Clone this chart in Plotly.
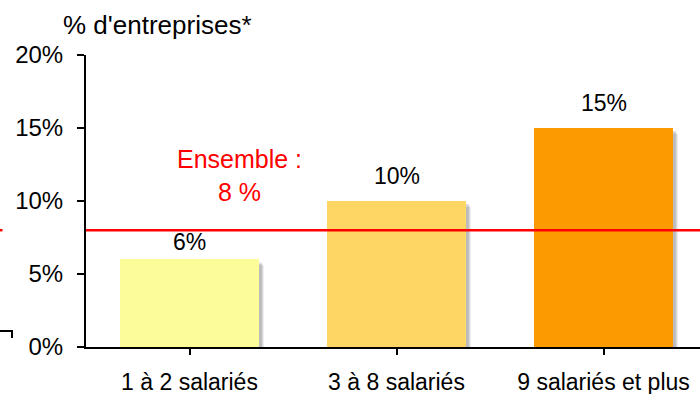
import plotly.graph_objects as go

# Share of companies by size class
categories = ["1 à 2 salariés", "3 à 8 salariés", "9 salariés et plus"]
values = [6, 10, 15]
value_labels = ["6%", "10%", "15%"]
bar_colors = ["#FCFC99", "#FDD663", "#FC9A02"]

ensemble = 8
ensemble_label = "Ensemble :<br>8 %"

y_ticks = [0, 5, 10, 15, 20]
y_tick_labels = ["0%", "5%", "10%", "15%", "20%"]

FONT = "Liberation Sans, Arial, sans-serif"
W, H = 700, 394
ML, MR, MT, MB = 86, 0, 55, 47
PW = W - ML - MR
PH = H - MT - MB


def px_x(p):
    return (p - ML) / PW


def px_y(p):
    return 1 - (p - MT) / PH


BAR_W = 0.67

fig = go.Figure()

fig.add_trace(go.Bar(
    x=list(range(len(categories))),
    y=values,
    width=BAR_W,
    marker=dict(color=bar_colors, line=dict(width=0)),
    hoverinfo="skip",
))

# soft drop shadow behind each bar
shapes = []
for i, v in enumerate(values):
    for k, op in enumerate([0.10, 0.12, 0.16]):
        dx = (5 - k) / 207.0
        shapes.append(dict(
            type="rect", xref="x", yref="y", layer="below",
            x0=i - BAR_W / 2 + dx, x1=i + BAR_W / 2 + dx,
            y0=-0.25, y1=v - (6 - k * 1.5) / 14.6,
            fillcolor="rgba(60,60,60,%.2f)" % op, line=dict(width=0),
        ))

# overall reference line
shapes.append(dict(type="line", xref="paper", yref="y", x0=0, x1=1,
                   y0=ensemble, y1=ensemble,
                   line=dict(color="#FF0000", width=2.5)))
shapes.append(dict(type="line", xref="paper", yref="y", x0=px_x(0), x1=px_x(2.5),
                   y0=ensemble, y1=ensemble,
                   line=dict(color="#FF0000", width=2.5)))
# small bracket at far left
shapes.append(dict(type="path", xref="paper", yref="paper",
                   path="M %f %f L %f %f L %f %f" % (
                       px_x(0), px_y(331), px_x(12), px_y(331), px_x(12), px_y(338)),
                   line=dict(color="black", width=2)))

# value labels above the bars; tucked closer when the bar sits below the line
annotations = [
    dict(text=lbl, x=i, y=v, xref="x", yref="y",
         xanchor="center", yanchor="bottom",
         yshift=2 if v < ensemble else 10, showarrow=False,
         font=dict(family=FONT, size=23, color="black"))
    for i, (v, lbl) in enumerate(zip(values, value_labels))
]
annotations += [
    dict(text="% d'entreprises*", xref="paper", yref="paper",
         x=px_x(157), y=px_y(25), xanchor="center", yanchor="middle",
         showarrow=False, font=dict(family=FONT, size=26, color="black")),
    dict(text=ensemble_label, xref="paper", yref="paper",
         x=px_x(239), y=px_y(175), xanchor="center", yanchor="middle",
         showarrow=False, align="center",
         font=dict(family=FONT, size=25, color="#FF0000")),
]

fig.update_layout(
    width=W, height=H,
    margin=dict(l=ML, r=MR, t=MT, b=MB, autoexpand=False),
    paper_bgcolor="white", plot_bgcolor="white",
    showlegend=False,
    bargap=0,
    shapes=shapes,
    annotations=annotations,
    font=dict(family=FONT, color="black"),
    xaxis=dict(
        tickmode="array",
        tickvals=list(range(len(categories))),
        ticktext=categories,
        range=[-0.5, -0.5 + PW / 207.0],
        showline=True, linecolor="black", linewidth=2,
        ticks="outside", ticklen=6, tickwidth=2, tickcolor="black",
        tickson="boundaries",
        tickfont=dict(family=FONT, size=23, color="black"),
        ticklabelstandoff=7,
        automargin=False,
        showgrid=False, zeroline=False,
        fixedrange=True,
    ),
    yaxis=dict(
        range=[0, 20],
        tickmode="array",
        tickvals=y_ticks,
        ticktext=y_tick_labels,
        showline=True, linecolor="black", linewidth=2,
        ticks="outside", ticklen=7, tickwidth=2, tickcolor="black",
        tickfont=dict(family=FONT, size=24, color="black"),
        ticklabelstandoff=9,
        automargin=False,
        showgrid=False, zeroline=False,
        fixedrange=True,
    ),
)

fig.write_html("out.html")
